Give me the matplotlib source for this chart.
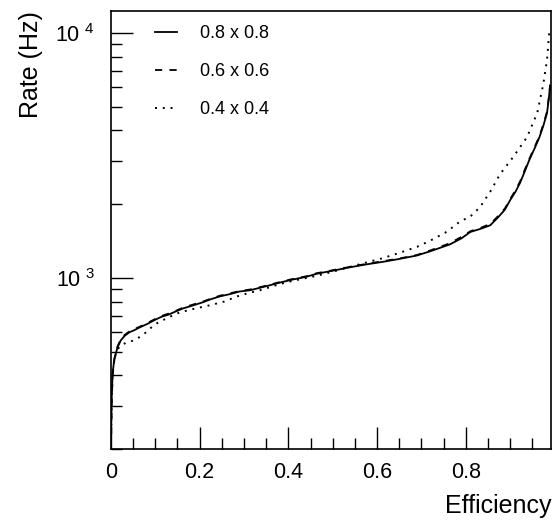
import numpy as np
import matplotlib
matplotlib.use("Agg")
import matplotlib.pyplot as plt
from matplotlib.ticker import FixedLocator, FixedFormatter, MultipleLocator, NullFormatter

plt.rcParams["font.family"] = ["Liberation Sans", "DejaVu Sans"]
plt.rcParams["mathtext.fontset"] = "custom"
plt.rcParams["mathtext.rm"] = "Liberation Sans"

# rate (Hz) vs efficiency
eff_08 = [0.000, 0.002, 0.004, 0.008, 0.015, 0.022, 0.031, 0.042, 0.053, 0.065,
          0.083, 0.100, 0.115, 0.130, 0.145, 0.162, 0.185, 0.207, 0.225, 0.245,
          0.270, 0.290, 0.313, 0.340, 0.365, 0.387, 0.410, 0.440, 0.464, 0.500,
          0.539, 0.575, 0.613, 0.650, 0.690, 0.720, 0.764, 0.790, 0.810, 0.835,
          0.855, 0.873, 0.888, 0.900, 0.912, 0.922, 0.932, 0.943, 0.955, 0.966,
          0.975, 0.983, 0.987, 0.990]
rate_08 = [200, 330, 410, 470, 520, 555, 580, 600, 612, 628,
           650, 675, 695, 708, 728, 750, 772, 795, 818, 840,
           860, 880, 890, 915, 940, 963, 985, 1010, 1040, 1070,
           1105, 1135, 1163, 1195, 1235, 1285, 1370, 1450, 1540, 1590,
           1640, 1770, 1900, 2080, 2250, 2440, 2700, 3030, 3380, 3760,
           4200, 4720, 5400, 6100]

eff_06 = [0.000, 0.002, 0.004, 0.008, 0.015, 0.022, 0.031, 0.042, 0.053, 0.065,
          0.083, 0.100, 0.115, 0.130, 0.145, 0.162, 0.185, 0.207, 0.225, 0.245,
          0.270, 0.290, 0.313, 0.340, 0.365, 0.387, 0.410, 0.440, 0.464, 0.500,
          0.539, 0.575, 0.613, 0.650, 0.690, 0.720, 0.764, 0.790, 0.810, 0.835,
          0.855, 0.873, 0.888, 0.900, 0.912, 0.922, 0.932, 0.943, 0.955, 0.966,
          0.975, 0.983, 0.987, 0.990]
rate_06 = [200, 320, 400, 465, 525, 560, 585, 605, 618, 632,
           655, 680, 700, 715, 732, 755, 778, 800, 822, 845,
           866, 884, 896, 920, 945, 968, 990, 1015, 1045, 1075,
           1110, 1140, 1170, 1200, 1240, 1295, 1385, 1470, 1550, 1605,
           1660, 1790, 1920, 2100, 2280, 2470, 2740, 3060, 3420, 3800,
           4250, 4780, 5450, 6150]

eff_04 = [0.000, 0.002, 0.004, 0.008, 0.015, 0.022, 0.031, 0.045, 0.060, 0.076,
          0.090, 0.105, 0.130, 0.155, 0.190, 0.223, 0.255, 0.284, 0.313, 0.336,
          0.365, 0.396, 0.430, 0.464, 0.500, 0.539, 0.575, 0.613, 0.650, 0.690,
          0.720, 0.757, 0.787, 0.810, 0.832, 0.855, 0.877, 0.907, 0.938, 0.961,
          0.975, 0.983, 0.988]
rate_04 = [200, 330, 410, 470, 510, 530, 540, 550, 566, 593,
           625, 655, 690, 723, 750, 773, 800, 840, 870, 890,
           925, 960, 990, 1020, 1060, 1109, 1155, 1204, 1265, 1339,
           1420, 1543, 1700, 1780, 1946, 2250, 2650, 3120, 3760, 4720,
           6250, 7780, 10100]

fig = plt.figure(figsize=(5.6, 5.21), dpi=100)
ax = fig.add_axes([0.198, 0.138, 0.786, 0.841])

ax.plot(eff_08, rate_08, color="black", lw=1.3, ls="-", label="0.8 x 0.8")
ax.plot(eff_06, rate_06, color="black", lw=1.3, ls=(0, (4, 4)), label="0.6 x 0.6")
ax.plot(eff_04, rate_04, color="black", lw=1.4, ls=(0, (1, 3)), label="0.4 x 0.4")

ax.set_yscale("log")
ax.set_xlim(0, 0.992)
ax.set_ylim(200, 12300)

ax.xaxis.set_major_locator(MultipleLocator(0.2))
ax.xaxis.set_minor_locator(MultipleLocator(0.05))
ax.xaxis.set_major_formatter(plt.FuncFormatter(lambda v, p: "0" if abs(v) < 1e-9 else f"{v:.1f}"))

ax.yaxis.set_major_locator(FixedLocator([1e3, 1e4]))
ax.yaxis.set_major_formatter(FixedFormatter([r"$\mathregular{10^{\ 3}}$", r"$\mathregular{10^{\ 4}}$"]))
minors = [m * 10 ** k for k in (2, 3, 4) for m in range(2, 10)]
ax.yaxis.set_minor_locator(FixedLocator(minors))
ax.yaxis.set_minor_formatter(NullFormatter())

ax.tick_params(which="both", direction="in", top=False, right=False, labelsize=15.5, colors="black")
ax.tick_params(which="major", length=16, width=1)
ax.tick_params(which="minor", length=8, width=1)
ax.tick_params(axis="x", pad=9)
ax.tick_params(axis="y", pad=12)
for s in ax.spines.values():
    s.set_linewidth(1.2)

ax.set_ylabel("Rate (Hz)", fontsize=18, loc="top", labelpad=9)
ax.set_xlabel("Efficiency", fontsize=18, loc="right", labelpad=8)

ax.legend(loc="upper left", bbox_to_anchor=(0.064, 1.004), frameon=False, fontsize=13,
          handlelength=1.2, handletextpad=1.3, labelspacing=1.15)

fig.savefig("out.png", dpi=100)
